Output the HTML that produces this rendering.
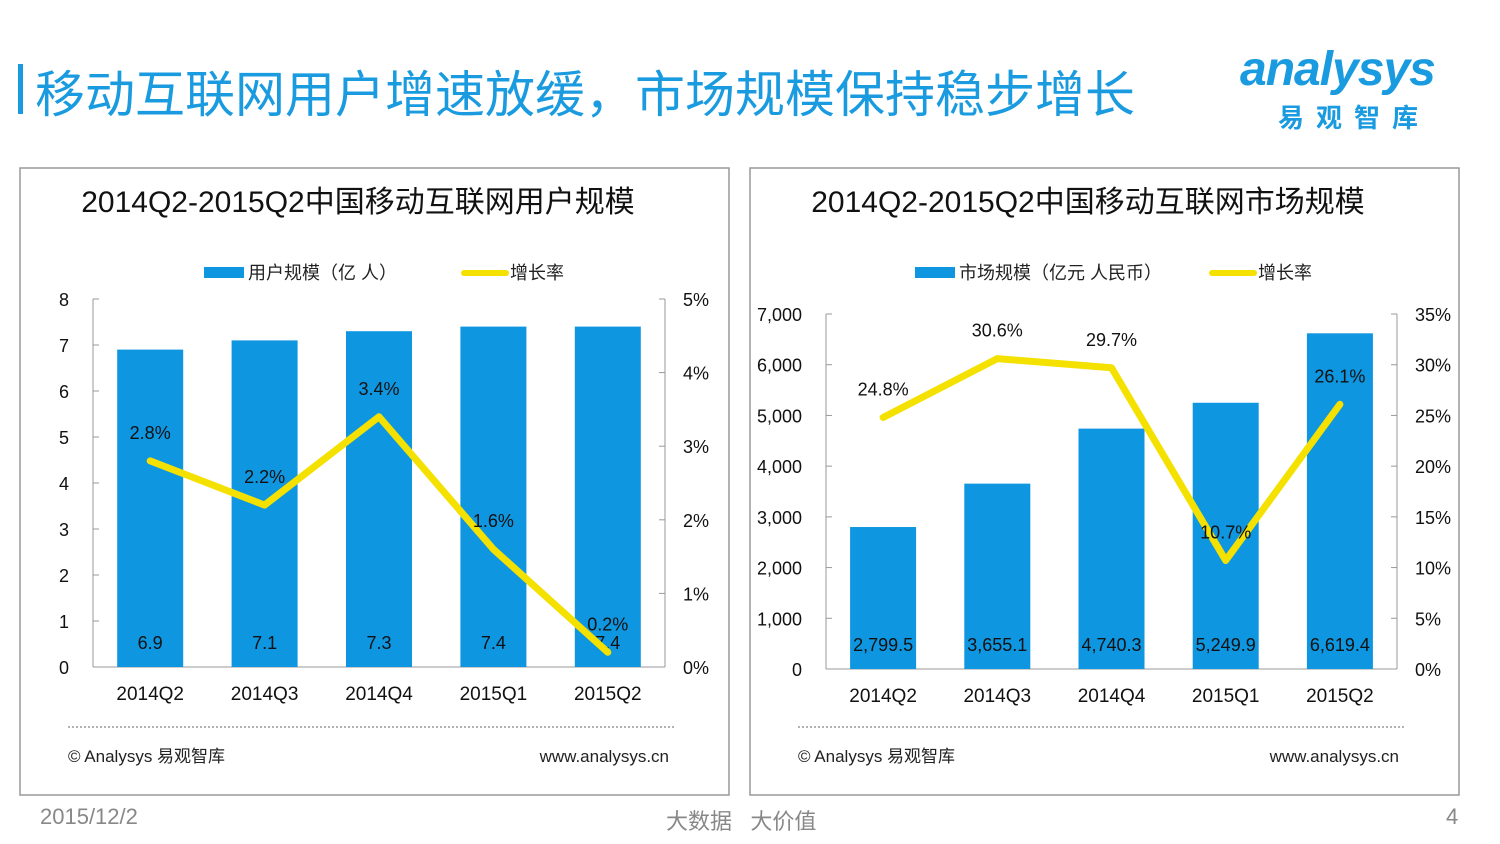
<!DOCTYPE html>
<html><head><meta charset="utf-8">
<style>
body{margin:0;width:1500px;height:844px;background:#fff;font-family:"Liberation Sans","Noto Sans CJK SC",sans-serif;overflow:hidden;position:relative}
.t{position:absolute;white-space:nowrap}
</style></head><body>
<div class="t" style="left:18px;top:64px;width:5px;height:50px;background:#1a9be0"></div>
<div class="t" style="left:35px;top:55px;font-size:50px;color:#1a9be0">移动互联网用户增速放缓，市场规模保持稳步增长</div>
<div class="t" style="left:1240px;top:42px;font-size:48px;font-style:italic;font-weight:bold;color:#1a9be0;letter-spacing:-1px">analysys</div>
<div class="t" style="left:1278px;top:98px;font-size:26px;font-weight:bold;color:#1a9be0;letter-spacing:12px">易观智库</div>
<div class="t" style="left:40px;top:804px;font-size:22px;color:#888">2015/12/2</div>
<div class="t" style="left:666px;top:804px;font-size:22px;color:#888">大数据&nbsp;&nbsp;&nbsp;大价值</div>
<div class="t" style="left:1446px;top:804px;font-size:22px;color:#888">4</div>
<svg id="svg" width="1500" height="844" style="position:absolute;left:0;top:0"></svg>
<script>
const categories=["2014Q2","2014Q3","2014Q4","2015Q1","2015Q2"];
const usersValues=[6.9,7.1,7.3,7.4,7.4];
const usersLabels=["6.9","7.1","7.3","7.4","7.4"];
const usersGrowth=[2.8,2.2,3.4,1.6,0.2];
const usersLeftTicks=[0,1,2,3,4,5,6,7,8];
const usersRightTicks=[0,1,2,3,4,5];
const marketValues=[2799.5,3655.1,4740.3,5249.9,6619.4];
const marketLabels=["2,799.5","3,655.1","4,740.3","5,249.9","6,619.4"];
const marketGrowth=[24.8,30.6,29.7,10.7,26.1];
const marketLeftTicks=[0,1000,2000,3000,4000,5000,6000,7000];
const marketRightTicks=[0,5,10,15,20,25,30,35];
const NS="http://www.w3.org/2000/svg";
const svg=document.getElementById('svg');
function mk(tag,attrs,name,text){const e=document.createElementNS(NS,tag);for(const k in attrs)e.setAttribute(k,attrs[k]);


if(text!==undefined)e.textContent=text;svg.appendChild(e);return e;}
function chart(o){
 mk('rect',{x:o.px,y:168,width:709,height:627,fill:'none',stroke:'#999','stroke-width':1.5},o.id+'-panel');
 mk('text',{x:o.px+338,y:212,'font-size':30,'text-anchor':'middle',fill:'#111'},o.id+'-title',o.title);
 mk('rect',{x:o.lx,y:267,width:40,height:11,fill:'#0f96e0'},o.id+'-legend-bar-swatch');
 mk('text',{x:o.lx+44,y:279,'font-size':18,fill:'#222'},o.id+'-legend-bar',o.barName);
 mk('line',{x1:o.lx2,x2:o.lx2+42,y1:273,y2:273,stroke:'#f5e100','stroke-width':6,'stroke-linecap':'round'},o.id+'-legend-line-swatch');
 mk('text',{x:o.lx2+46,y:279,'font-size':18,fill:'#222'},o.id+'-legend-line','增长率');
 const y=v=>o.y0-(v-o.lt[0])/(o.lt[o.lt.length-1]-o.lt[0])*(o.y0-o.yt);
 const yr=v=>o.y0-v/o.rt[o.rt.length-1]*(o.y0-o.yt);
 const x=i=>o.x0+(i+0.5)*(o.x1-o.x0)/o.cats.length;
 mk('line',{x1:o.x0,x2:o.x0,y1:o.yt,y2:o.y0,stroke:'#999'},o.id+'-y-axis');
 mk('line',{x1:o.x1,x2:o.x1,y1:o.yt,y2:o.y0,stroke:'#999'},o.id+'-y2-axis');
 mk('line',{x1:o.x0,x2:o.x1,y1:o.y0,y2:o.y0,stroke:'#999'},o.id+'-x-axis');
 o.lt.forEach(t=>{mk('line',{x1:o.x0,x2:o.x0+6,y1:y(t),y2:y(t),stroke:'#999'},o.id+'-y-tick');
  mk('text',{x:o.x0-o.lpad,y:y(t)+7,'font-size':18,'text-anchor':'end',fill:'#111'},o.id+'-y-tick-label',t.toLocaleString('en-US'));});
 o.rt.forEach(t=>{mk('line',{x1:o.x1-6,x2:o.x1,y1:yr(t),y2:yr(t),stroke:'#999'},o.id+'-y2-tick');
  mk('text',{x:o.x1+18,y:yr(t)+7,'font-size':18,fill:'#111'},o.id+'-y2-tick-label',t+'%');});
 o.vals.forEach((v,i)=>{mk('rect',{x:x(i)-33,y:y(v),width:66,height:o.y0-y(v),fill:'#0f96e0'},o.id+'-bar-'+o.cats[i]);
  mk('text',{x:x(i),y:o.y0-18,'font-size':18,'text-anchor':'middle',fill:'#111'},o.id+'-bar-value',o.labels[i]);
  mk('text',{x:x(i),y:o.y0+33,'font-size':19,'text-anchor':'middle',fill:'#111'},o.id+'-x-label',o.cats[i]);});
 mk('polyline',{points:o.gr.map((g,i)=>x(i)+','+yr(g)).join(' '),fill:'none',stroke:'#f5e100','stroke-width':7,'stroke-linejoin':'round','stroke-linecap':'round'},o.id+'-growth-line');
 o.gr.map((g,i)=>mk('text',{x:x(i),y:yr(g)-22,'font-size':18,'text-anchor':'middle',fill:'#111'},o.id+'-growth-label',g.toFixed(1)+'%'));
 mk('line',{x1:o.px+48,x2:o.px+654,y1:727,y2:727,stroke:'#666','stroke-dasharray':'2,2'},o.id+'-divider');
 mk('text',{x:o.px+48,y:762,'font-size':17,fill:'#222'},o.id+'-source','© Analysys 易观智库');
 mk('text',{x:o.px+649,y:762,'font-size':17,'text-anchor':'end',fill:'#222'},o.id+'-url','www.analysys.cn');
}
chart({id:'users',px:20,title:'2014Q2-2015Q2中国移动互联网用户规模',barName:'用户规模（亿 人）',lx:204,lx2:464,
 x0:93,x1:665,y0:667,yt:299,lt:usersLeftTicks,rt:usersRightTicks,lpad:24,cats:categories,vals:usersValues,labels:usersLabels,gr:usersGrowth});
chart({id:'market',px:750,title:'2014Q2-2015Q2中国移动互联网市场规模',barName:'市场规模（亿元 人民币）',lx:915,lx2:1212,
 x0:826,x1:1397,y0:669,yt:314,lt:marketLeftTicks,rt:marketRightTicks,lpad:24,cats:categories,vals:marketValues,labels:marketLabels,gr:marketGrowth});
</script>
</body></html>
